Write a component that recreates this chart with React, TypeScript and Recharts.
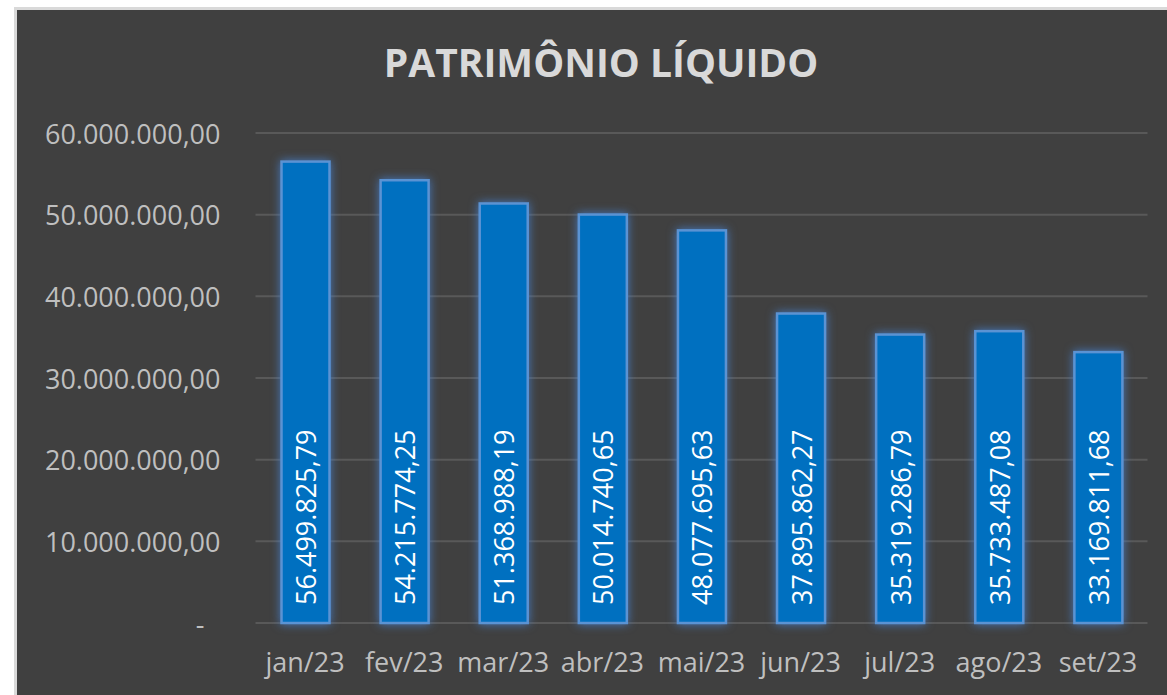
import { Bar, BarChart, CartesianGrid, LabelList, XAxis, YAxis } from "recharts";

const months = ["jan/23", "fev/23", "mar/23", "abr/23", "mai/23", "jun/23", "jul/23", "ago/23", "set/23"];
const patrimonio = [
  56499825.79, 54215774.25, 51368988.19, 50014740.65, 48077695.63, 37895862.27, 35319286.79, 35733487.08,
  33169811.68,
];
const yTicks = [0, 10000000, 20000000, 30000000, 40000000, 50000000, 60000000];

const data = months.map((m, i) => ({ month: m, value: patrimonio[i] }));

const FONT = "'Open Sans', sans-serif";

const brl = (v: number) =>
  v.toLocaleString("pt-BR", { minimumFractionDigits: 2, maximumFractionDigits: 2 });

function YTick(props: any) {
  const { x, y, payload } = props;
  const zero = payload.value === 0;
  return (
    <text
      x={zero ? x - 16 : x}
      y={y}
      textAnchor="end"
      dominantBaseline="central"
      fill="#bfbfbf"
      fontSize={27}
      fontFamily={FONT}
    >
      {zero ? "-" : brl(payload.value)}
    </text>
  );
}

// glow around each bar, like the excel "brilho" effect
function BarShape(props: any) {
  const { x, y, width, height } = props;
  return (
    <rect
      x={x + 1}
      y={y}
      width={width - 2}
      height={height}
      fill="#0070C0"
      stroke="#5b93d3"
      strokeWidth={2.5}
      style={{ filter: "drop-shadow(0 0 5px rgba(70,130,210,0.85))" }}
    />
  );
}

function ValueLabel(props: any) {
  const { x, y, width, height, value } = props;
  const cx = x + width / 2;
  const by = y + height - 18;
  return (
    <text
      x={cx}
      y={by}
      transform={`rotate(-90 ${cx} ${by})`}
      textAnchor="start"
      dominantBaseline="central"
      fill="#ffffff"
      fontSize={27}
      fontFamily={FONT}
    >
      {brl(value)}
    </text>
  );
}

export default function App() {
  return (
    <div
      style={{
        position: "absolute",
        left: 14,
        top: 7,
        width: 1150,
        height: 685,
        borderTop: "3px solid #d9d9d9",
        borderLeft: "3px solid #d9d9d9",
        background: "#404040",
        overflow: "hidden",
      }}
    >
      <div
        style={{
          position: "absolute",
          left: 0,
          width: 1168,
          top: 27,
          textAlign: "center",
          fontFamily: FONT,
          fontWeight: 700,
          fontSize: 39,
          color: "#d9d9d9",
          lineHeight: "50px",
        }}
      >
        PATRIMÔNIO LÍQUIDO
      </div>
      <BarChart
        width={1150}
        height={685}
        data={data}
        margin={{ top: 123, right: 19.5, bottom: 42, left: 0 }}
        barSize={50}
      >
        <CartesianGrid vertical={false} stroke="#595959" strokeWidth={2} />
        <XAxis
          dataKey="month"
          axisLine={false}
          tickLine={false}
          tickSize={0}
          tickMargin={30}
          tick={{ fill: "#bfbfbf", fontSize: 27, fontFamily: FONT }}
          interval={0}
        />
        <YAxis
          width={238.5}
          domain={[0, 60000000]}
          ticks={yTicks}
          axisLine={false}
          tickLine={false}
          tickSize={0}
          tickMargin={35}
          tick={<YTick />}
        />
        <Bar dataKey="value" shape={<BarShape />} isAnimationActive={false}>
          <LabelList dataKey="value" content={<ValueLabel />} />
        </Bar>
      </BarChart>
    </div>
  );
}
